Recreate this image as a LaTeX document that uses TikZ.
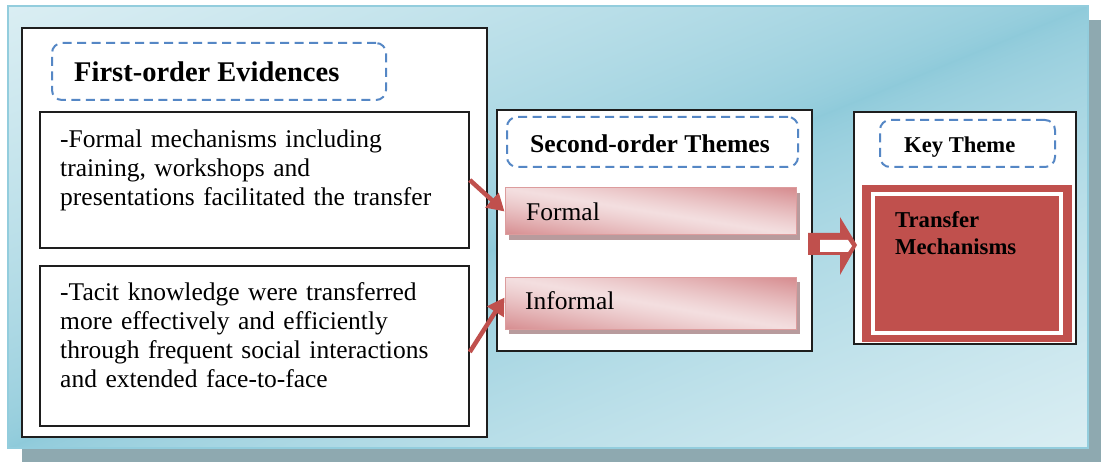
\documentclass[tikz,border=0pt]{standalone}
\usepackage{fontspec}
\setmainfont{Liberation Serif}
\usetikzlibrary{arrows.meta}

\definecolor{panelEdge}{HTML}{93CDDD}
\definecolor{panelShadow}{HTML}{8EA9B0}
\definecolor{dashBlue}{HTML}{5587C5}
\definecolor{accentRed}{HTML}{C0504D}
\definecolor{barEdge}{HTML}{DC9C9D}
\definecolor{barShadow}{HTML}{B89B9D}
\definecolor{frameBlack}{HTML}{1E1E1E}

% Panel: dark band along the anti-diagonal, fading to light at the
% top-left and bottom-right corners (the middle 50bp square is the shape).
% light DAEEF3, dark 8ECADA
\pgfdeclarefunctionalshading{panelfn}{\pgfpointorigin}{\pgfpoint{100bp}{100bp}}{}{
  sub abs 50 div dup 1 gt {pop 1} if 0.7 exp
  dup dup 0.298 mul 0.557 add 3 1 roll 0.141 mul 0.792 add exch 0.098 mul 0.855 add
}
% Bars: light band along the main diagonal, darker towards the other corners.
% light F3DEDF, dark D68C8F
\pgfdeclarefunctionalshading{barfn}{\pgfpointorigin}{\pgfpoint{100bp}{100bp}}{}{
  add 100 sub abs 50 div dup 1 gt {pop 1} if 1.2 exp
  dup dup -0.114 mul 0.953 add 3 1 roll -0.322 mul 0.871 add exch -0.314 mul 0.875 add
}

\tikzset{
  frame/.style={rectangle, draw=frameBlack, line width=1.5pt, fill=white, inner sep=0pt},
  dashbox/.style={rectangle, draw=dashBlue, line width=2pt, dash pattern=on 9pt off 5.5pt,
    rounded corners=10pt, inner sep=0pt},
  bar/.style={rectangle, draw=barEdge, line width=1pt, shade, shading=barfn, inner sep=0pt},
  link/.style={draw=accentRed, line width=4.5pt, -{Triangle[length=17pt,width=19pt]}},
  bodytext/.style={inner sep=0pt, anchor=base west, align=left, text width=420pt,
    font=\fontsize{25.5pt}{28.7pt}\selectfont},
  bartext/.style={inner sep=0pt, anchor=base west, font=\fontsize{25.5pt}{28.7pt}\selectfont},
  headtext/.style={inner sep=0pt, anchor=base west, font=\bfseries\fontsize{#1}{#1}\selectfont},
}

\begin{document}
\begin{tikzpicture}[x=1pt, y=-1pt]
\useasboundingbox (0,0) rectangle (1101,462);

% background panel with its drop shadow
\fill[panelShadow] (22,20) rectangle (1102,462);
\node[rectangle, inner sep=0pt, minimum width=1080pt, minimum height=442pt,
  draw=panelEdge, line width=1.5pt, shade, shading=panelfn]
  (panel) at (548,227) {};

% first-order evidences
\node[frame, minimum width=465pt, minimum height=409pt] (evid) at (254.5,232.5) {};
\node[dashbox, minimum width=334pt, minimum height=57pt] (evidHead) at (219,71.5) {};
\node[headtext=28.5pt] (evidTitle) at (74,82) {First-order Evidences};
\node[frame, minimum width=429pt, minimum height=136pt] (ev1) at (254.5,180) {};
\node[frame, minimum width=429pt, minimum height=160pt] (ev2) at (254.5,346) {};
\node[bodytext] (ev1text) at (60,148) {-Formal mechanisms including\\training, workshops and\\presentations facilitated the transfer};
\node[bodytext] (ev2text) at (60,301) {-Tacit knowledge were transferred\\more effectively and efficiently\\through frequent social interactions\\and extended face-to-face};

% second-order themes
\node[frame, minimum width=315pt, minimum height=241pt] (themes) at (654.5,230.5) {};
\node[dashbox, minimum width=291pt, minimum height=50pt] (themesHead) at (652.5,142) {};
\node[headtext=25.6pt] (themesTitle) at (530,153) {Second-order Themes};
\fill[barShadow] (509,193) rectangle (800,240);
\fill[barShadow] (509,282.5) rectangle (800,334.5);
\node[bar, minimum width=291pt, minimum height=47pt] (formal) at (650.5,211.5) {};
\node[bar, minimum width=291pt, minimum height=52pt] (informal) at (650.5,303.5) {};
\node[bartext] (formalText) at (526,221) {Formal};
\node[bartext] (informalText) at (525,310) {Informal};

% key theme
\node[frame, minimum width=222pt, minimum height=232pt] (key) at (965,228) {};
\node[dashbox, minimum width=175pt, minimum height=47pt] (keyHead) at (967.5,143.5) {};
\node[headtext=22.6pt] (keyTitle) at (904,153) {Key Theme};
\node[rectangle, fill=accentRed, inner sep=0pt, minimum width=210pt, minimum height=157pt] (mech) at (967,263.5) {};
\node[rectangle, draw=white, line width=4pt, inner sep=0pt, minimum width=188pt, minimum height=139pt] (mechInner) at (mech.center) {};
\node[inner sep=0pt, anchor=base west, align=left, text width=160pt,
  font=\bfseries\fontsize{22.7pt}{26.3pt}\selectfont] (mechText) at (895,228) {Transfer\\Mechanisms};

% connectors
\draw[link] (ev1.east) -- (formal.west);
\draw[link] ([yshift=-6pt]ev2.east) -- ([yshift=6pt]informal.west);

% block arrow from the themes to the key theme
\coordinate (flow) at (808,244);
\fill[accentRed] (flow) ++(0,-11) -- ++(32,0) -- ++(0,-16) -- ++(17,28) -- ++(-17,30) -- ++(0,-20) -- ++(-32,0) -- cycle;
\fill[white] (flow) ++(12,-4) -- ++(28,0) -- ++(4,6) -- ++(-4,6) -- ++(-28,0) -- cycle;
\end{tikzpicture}
\end{document}
